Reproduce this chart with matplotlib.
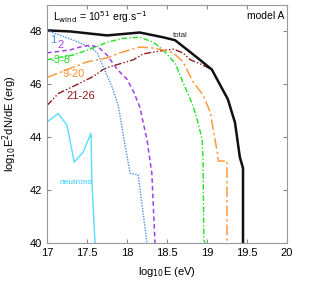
import matplotlib
matplotlib.use('Agg')
import matplotlib.pyplot as plt

plt.rcParams['font.family'] = ['Liberation Sans', 'DejaVu Sans']

# log10 E (eV) and log10 E^2 dN/dE (erg)
total_x = [17.0, 17.29, 17.75, 18.16, 18.45, 18.6, 18.79, 18.91, 19.06, 19.26, 19.35, 19.41, 19.45, 19.45]
total_y = [48.04, 48.0, 47.85, 47.96, 47.78, 47.67, 47.22, 46.93, 46.56, 45.44, 44.55, 43.25, 42.83, 40.0]

z1_x = [17.0, 17.33, 17.54, 17.63, 17.7, 17.81, 17.89, 17.98, 18.04, 18.14, 18.16, 18.25]
z1_y = [48.04, 47.67, 47.41, 47.19, 46.67, 45.93, 45.21, 43.62, 42.64, 42.57, 42.1, 40.0]

z2_x = [17.0, 17.29, 17.41, 17.54, 17.64, 17.75, 17.88, 18.0, 18.08, 18.16, 18.25, 18.31, 18.35]
z2_y = [47.19, 47.3, 47.41, 47.48, 47.41, 47.11, 46.56, 46.19, 45.74, 45.14, 43.9, 42.64, 40.0]

z38_x = [17.0, 17.33, 17.54, 17.75, 17.95, 18.16, 18.33, 18.45, 18.6, 18.7, 18.79, 18.83, 18.89, 18.94, 18.95, 18.96, 18.98]
z38_y = [46.93, 47.11, 47.33, 47.59, 47.74, 47.78, 47.59, 47.3, 46.81, 46.07, 45.44, 45.14, 44.52, 43.9, 43.25, 40.1, 40.0]

z920_x = [17.0, 17.5, 17.75, 17.91, 18.16, 18.33, 18.45, 18.58, 18.7, 18.83, 18.95, 19.04, 19.08, 19.13, 19.14, 19.25, 19.25]
z920_y = [46.26, 46.85, 47.0, 47.19, 47.41, 47.37, 47.3, 47.19, 46.85, 46.07, 45.6, 44.95, 44.26, 43.4, 43.1, 43.1, 40.0]

z2126_x = [17.0, 17.14, 17.38, 17.58, 17.7, 17.79, 17.95, 18.08, 18.2, 18.33, 18.5, 18.58, 18.7, 18.79, 18.91, 19.06, 19.26, 19.35, 19.41, 19.45, 19.45]
z2126_y = [45.2, 45.65, 46.0, 46.3, 46.56, 46.67, 46.81, 46.93, 47.15, 47.22, 47.3, 47.33, 47.19, 46.93, 46.78, 46.56, 45.44, 44.55, 43.25, 42.83, 40.0]

neu_x = [17.0, 17.14, 17.25, 17.34, 17.45, 17.55, 17.56, 17.6]
neu_y = [44.57, 44.9, 44.45, 43.06, 43.43, 44.15, 42.38, 40.0]

fig = plt.figure(figsize=(3.32, 2.83), dpi=100)
ax = fig.add_axes([0.1416, 0.1413, 0.7229, 0.841])

ax.plot(z2126_x, z2126_y, color='#8b1a1a', lw=1.0, dashes=[5, 1.5, 1, 1.5, 1, 1.5])
ax.plot(total_x, total_y, color='#111111', lw=1.8)
ax.plot(z1_x, z1_y, color='#4d8ef0', lw=1.0, ls=(0, (1, 1)))
ax.plot(z2_x, z2_y, color='#a040e8', lw=1.1, ls=(0, (3, 2)))
ax.plot(z38_x, z38_y, color='#22e022', lw=1.0, dashes=[4, 1.5, 1, 1.5])
ax.plot(z920_x, z920_y, color='#ff9a40', lw=1.1, dashes=[7, 2, 1.5, 2])
ax.plot(neu_x, neu_y, color='#55ddff', lw=1.0)

ax.text(17.075, 47.66, '1', color='#4d8ef0', fontsize=8, ha='center', va='center')
ax.text(17.175, 47.47, '2', color='#a040e8', fontsize=8, ha='center', va='center')
ax.text(17.04, 46.91, '-3-8', color='#22e022', fontsize=8, va='center')
ax.text(17.19, 46.38, '9-20', color='#ff8c30', fontsize=8, va='center')
ax.text(17.24, 45.55, '21-26', color='#8b1a1a', fontsize=8, va='center')
ax.text(18.66, 47.85, 'total', color='#222222', fontsize=5.5, ha='center', va='center')
ax.text(17.16, 42.3, 'neutrons', color='#33ccff', fontsize=6, va='center')
ax.text(19.5, 48.57, 'model A', color='black', fontsize=7.5, va='center')
ax.text(17.07, 48.53, r'L$_{\rm wind}$ = 10$^{51}$ erg.s$^{-1}$', color='black', fontsize=7.5, va='center')

ax.set_xlim(17, 20)
ax.set_ylim(40, 49)
ax.set_xticks([17, 17.5, 18, 18.5, 19, 19.5, 20])
ax.set_xticklabels(['17', '17.5', '18', '18.5', '19', '19.5', '20'])
ax.set_yticks([40, 42, 44, 46, 48])
ax.tick_params(direction='in', top=True, right=True, labelsize=8, length=3, color='#888888')
for s in ax.spines.values():
    s.set_color('#999999')

ax.set_xlabel(r'log$_{10}$E (eV)', fontsize=8, labelpad=5)
ax.set_ylabel(r'log$_{10}$E$^2$dN/dE (erg)', fontsize=8, labelpad=8)

fig.savefig('out.png', dpi=100)
